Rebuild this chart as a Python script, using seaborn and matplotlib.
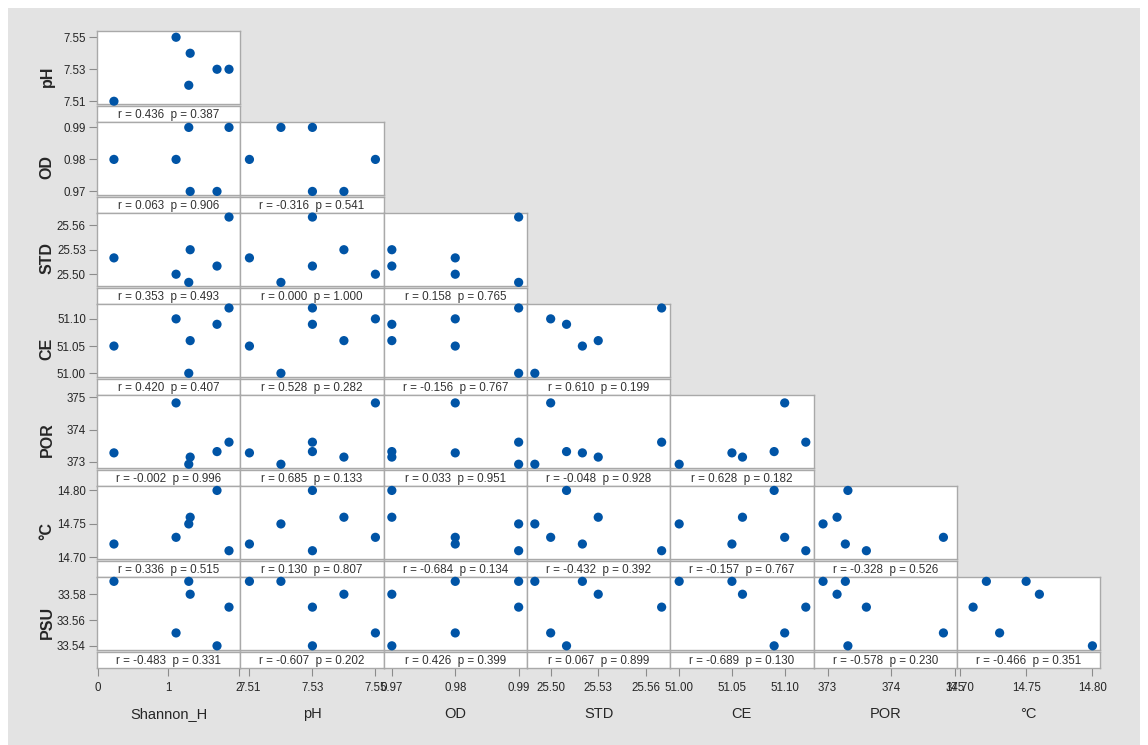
import pandas as pd
import seaborn as sns
from matplotlib import pyplot as plt
from matplotlib.patches import Rectangle


shannon_h = [0.23, 1.11, 1.31, 1.29, 1.69, 1.86]
ph = [7.51, 7.55, 7.54, 7.52, 7.53, 7.53]
od = [0.98, 0.98, 0.97, 0.99, 0.97, 0.99]
std = [25.52, 25.50, 25.53, 25.49, 25.51, 25.57]
ce = [51.05, 51.10, 51.06, 51.00, 51.09, 51.12]
por = [373.28, 374.82, 373.15, 372.93, 373.32, 373.61]
temp_c = [14.72, 14.73, 14.76, 14.75, 14.80, 14.71]
psu = [33.59, 33.55, 33.58, 33.59, 33.54, 33.57]

col_vars = ['Shannon_H', 'pH', 'OD', 'STD', 'CE', 'POR', '°C']
row_vars = ['pH', 'OD', 'STD', 'CE', 'POR', '°C', 'PSU']

# lower triangle, one list per row
r_values = [
    [0.436],
    [0.063, -0.316],
    [0.353, 0.000, 0.158],
    [0.420, 0.528, -0.156, 0.610],
    [-0.002, 0.685, 0.033, -0.048, 0.628],
    [0.336, 0.130, -0.684, -0.432, -0.157, -0.328],
    [-0.483, -0.607, 0.426, 0.067, -0.689, -0.578, -0.466],
]
p_values = [
    [0.387],
    [0.906, 0.541],
    [0.493, 1.000, 0.765],
    [0.407, 0.282, 0.767, 0.199],
    [0.996, 0.133, 0.951, 0.928, 0.182],
    [0.515, 0.807, 0.134, 0.392, 0.767, 0.526],
    [0.331, 0.202, 0.399, 0.899, 0.130, 0.230, 0.351],
]

tick_labels = {
    'Shannon_H': ['0', '1', '2'],
    'pH': ['7.51', '7.53', '7.55'],
    'OD': ['0.97', '0.98', '0.99'],
    'STD': ['25.50', '25.53', '25.56'],
    'CE': ['51.00', '51.05', '51.10'],
    'POR': ['373', '374', '375'],
    '°C': ['14.70', '14.75', '14.80'],
    'PSU': ['33.54', '33.56', '33.58'],
}

df = pd.DataFrame({'Shannon_H': shannon_h, 'pH': ph, 'OD': od, 'STD': std,
                   'CE': ce, 'POR': por, '°C': temp_c, 'PSU': psu})

# axis scales as minitab drew them
x_limits = {
    'Shannon_H': (-0.01, 2.02), 'pH': (7.5071, 7.5526), 'OD': (0.9687, 0.9913),
    'STD': (25.485, 25.5754), 'CE': (50.9915, 51.1273), 'POR': (372.78, 375.03),
    '°C': (14.6977, 14.8058),
}
y_limits = {
    'pH': (7.5083, 7.5539), 'OD': (0.9689, 0.9917), 'STD': (25.4857, 25.5751),
    'CE': (50.9934, 51.1276), 'POR': (372.82, 375.07), '°C': (14.698, 14.807),
    'PSU': (33.537, 33.5936),
}

W, H = 1148, 745
sns.set_style('white')
plt.rcParams['font.family'] = ['Liberation Sans', 'DejaVu Sans']

fig = plt.figure(figsize=(W / 100, H / 100), dpi=100)
fig.patch.set_facecolor('white')
fig.patches.append(Rectangle((8 / W, 0), 1132 / W, 1 - 8 / H, transform=fig.transFigure,
                             facecolor='#e3e3e3', edgecolor='none', zorder=-10))


def px_box(x0, y0, w, h):
    return [x0 / W, 1 - (y0 + h) / H, w / W, h / H]


border = '#a9a9a9'
dot_color = '#0054a6'
cell_w = 143.3
row_step = 90.95
narrow = ['Liberation Sans Narrow', 'DejaVu Sans Condensed', 'Liberation Sans']


def style_box(ax):
    ax.set_facecolor('white')
    for sp in ax.spines.values():
        sp.set_color(border)
        sp.set_linewidth(1.0)
    ax.set_xlabel('')
    ax.set_ylabel('')


for i, rv in enumerate(row_vars):
    top = 31 + i * row_step
    for j in range(i + 1):
        cv = col_vars[j]
        left = 97 + j * cell_w

        ax = fig.add_axes(px_box(left, top, cell_w, 73))
        sns.scatterplot(data=df, x=cv, y=rv, ax=ax, color=dot_color, s=44,
                        edgecolor='none', legend=False, zorder=3, clip_on=False)
        ax.set_xlim(*x_limits[cv])
        ax.set_ylim(*y_limits[rv])
        style_box(ax)
        ax.set_xticks([])
        if j == 0:
            ticks = [float(t) for t in tick_labels[rv]]
            ax.set_yticks(ticks, tick_labels[rv])
            ax.tick_params(axis='y', direction='out', length=6, width=0.8, color='#8c8c8c',
                           pad=2, labelsize=8.3, labelcolor='#262626', left=True)
            for lab in ax.get_yticklabels():
                lab.set_family(narrow)
            ax.set_ylabel(rv, fontsize=11.5, fontweight='bold', color='#262626')
            # centred on the whole cell (scatter + r/p strip), same x for every row
            ax.yaxis.set_label_coords(-0.295, 0.38)
        else:
            ax.set_yticks([])

        strip = fig.add_axes(px_box(left, top + 75, cell_w, 16))
        style_box(strip)
        strip.set_xlim(*x_limits[cv])
        strip.set_yticks([])
        strip.text(0.5, 0.45, f"r = {r_values[i][j]:.3f}  p = {p_values[i][j]:.3f}",
                   transform=strip.transAxes, ha='center', va='center',
                   fontsize=8.4, color='#333333')
        if i == len(row_vars) - 1:
            ticks = [float(t) for t in tick_labels[cv]]
            strip.set_xticks(ticks, tick_labels[cv])
            strip.tick_params(axis='x', direction='out', length=6, width=0.8, color='#8c8c8c',
                              pad=4, labelsize=8.3, labelcolor='#262626', bottom=True)
            for lab in strip.get_xticklabels():
                lab.set_family(narrow)
            strip.set_xlabel(cv, fontsize=10.5, color='#262626', labelpad=10)
        else:
            strip.set_xticks([])

fig.savefig('out.png', dpi=100)
